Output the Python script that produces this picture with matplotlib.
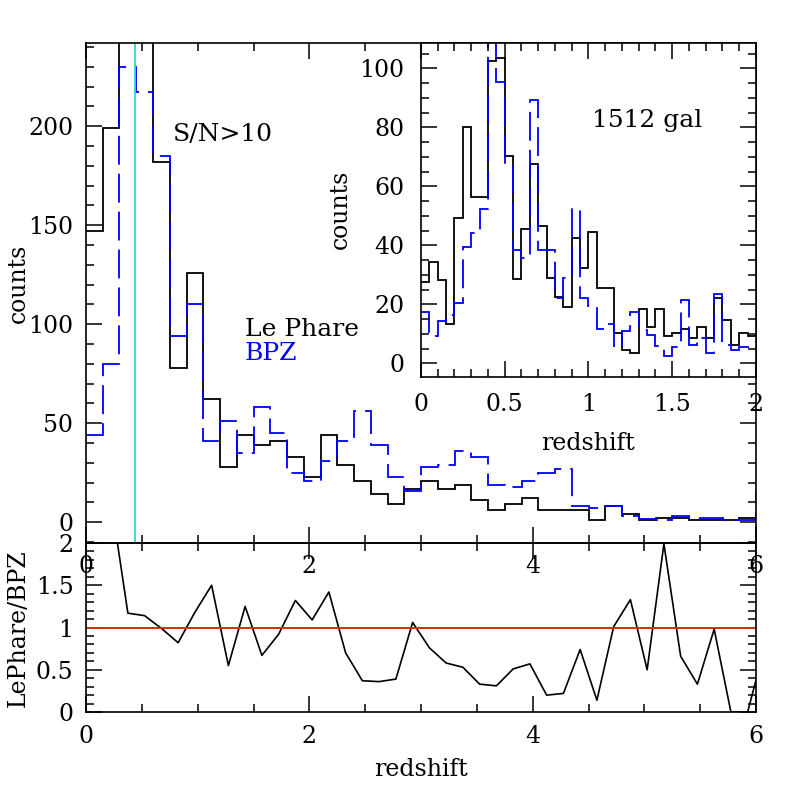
import matplotlib
matplotlib.use('Agg')
import matplotlib.pyplot as plt
import numpy as np
from matplotlib.ticker import MultipleLocator, FuncFormatter

plt.rcParams['font.family'] = ['DejaVu Serif']
plt.rcParams['font.size'] = 17

# main histogram, bins of 0.15 in redshift (last bin sits past z=6)
z_edges = np.arange(0, 6.16, 0.15)
lephare = [147, 199, 269, 248, 182, 78, 126, 62, 28, 44,
           39, 41, 33, 23, 44, 29, 21, 14, 9, 17,
           21, 17, 19, 11, 6, 9, 12, 6, 6, 6,
           1, 8, 4, 1, 2, 2, 1, 1, 1, 2, 2]
bpz = [44, 80, 230, 217, 185, 94, 110, 41, 51, 35,
       58, 45, 25, 21, 31, 41, 56, 39, 23, 16,
       28, 29, 36, 33, 19, 18, 21, 25, 27, 8,
       7, 8, 3, 1.5, 1, 3, 2, 2, 1, 1, 16]

# ratio LePhare/BPZ at the bin centres
ratio = [3.3, 2.5, 1.17, 1.14, 0.99, 0.82, 1.18, 1.50, 0.55, 1.25,
         0.67, 0.92, 1.32, 1.09, 1.42, 0.70, 0.37, 0.36, 0.39, 1.06,
         0.76, 0.58, 0.53, 0.33, 0.31, 0.51, 0.57, 0.20, 0.22, 0.74,
         0.14, 1.01, 1.33, 0.50, 1.99, 0.66, 0.33, 0.98, 0.0, 0.0, 0.76]

# inset, bins of 0.05 between z=0 and 2
zin_edges = np.arange(0, 2.001, 0.05)
lephare_in = [27.6, 34.4, 28.2, 13.3, 49.3, 80.2, 56.5, 56.5, 102.6, 103.4,
              70.3, 28.5, 45.4, 67.5, 46.5, 29.1, 22.4, 19.2, 42.6, 32.2,
              44.4, 25.4, 25.4, 10.4, 4.7, 3.4, 18.4, 12.4, 18.4, 9.3,
              10.4, 11.6, 8.5, 12.4, 8.5, 22.0, 14.7, 6.4, 10.4, 9.3]
bpz_in = [17.3, 9.3, 14.4, 16.4, 20.3, 39.3, 44.3, 52.3, 115, 95.5,
          67.2, 38.4, 35.6, 89.3, 38.4, 38.4, 22.2, 29.0, 52.3, 22.2,
          19.4, 11.6, 13.3, 5.6, 11.0, 17.3, 11.3, 9.6, 6.0, 2.5,
          5.6, 21.5, 6.4, 8.5, 3.4, 23.4, 6.4, 4.5, 5.6, 6.4]

z_cut = 0.44
n_gal = 1512

BLUE = '#0000ff'
DASH = (0, (16, 5))
gfmt = FuncFormatter(lambda v, p: f'{v:g}')


def style_ticks(ax, xmaj, xmin, ymaj, ymin, pad=9):
    ax.xaxis.set_major_locator(MultipleLocator(xmaj))
    ax.xaxis.set_minor_locator(MultipleLocator(xmin))
    ax.yaxis.set_major_locator(MultipleLocator(ymaj))
    ax.yaxis.set_minor_locator(MultipleLocator(ymin))
    ax.xaxis.set_major_formatter(gfmt)
    ax.yaxis.set_major_formatter(gfmt)
    ax.tick_params(which='both', direction='in', top=True, right=True,
                   width=1.1, pad=pad)
    ax.tick_params(which='major', length=11.5)
    ax.tick_params(which='minor', length=5.8)
    for s in ax.spines.values():
        s.set_linewidth(1.2)


fig = plt.figure(figsize=(7.97, 7.97), dpi=100)

# ---- main panel
ax = fig.add_axes([0.1079, 0.3187, 0.8407, 0.6274])
ax.stairs(lephare, z_edges, baseline=None, color='black', lw=1.3)
ax.stairs(bpz, z_edges, baseline=None, color=BLUE, lw=1.3, linestyle=DASH)
ax.axvline(z_cut, color='#33d6d6', lw=1.3)
ax.set_xlim(0, 6)
ax.set_ylim(-10.5, 242)
style_ticks(ax, 2, 0.5, 50, 10)
ax.set_ylabel('counts')
ax.yaxis.set_label_coords(-0.0836, 0.52)
ax.text(0.776, 192.4, 'S/N>10', va='baseline', fontsize=18)
ax.text(1.42, 94, 'Le Phare', va='baseline', fontsize=18)
ax.text(1.42, 82, 'BPZ', va='baseline', fontsize=18, color=BLUE)

# ---- ratio panel
axr = fig.add_axes([0.1079, 0.1066, 0.8407, 0.2121])
axr.set_facecolor('none')
zc = z_edges[:-1] + 0.075
axr.plot(zc, ratio, color='black', lw=1.2)
axr.axhline(1, color='#cc3300', lw=1.4)
axr.set_xlim(0, 6)
axr.set_ylim(0, 2)
style_ticks(axr, 2, 0.5, 0.5, 0.1)
axr.set_xlabel('redshift')
axr.set_ylabel('LePhare/BPZ')
axr.xaxis.set_label_coords(0.5, -0.27)
axr.yaxis.set_label_coords(-0.0836, 0.497)

# ---- inset
axi = fig.add_axes([0.5282, 0.5274, 0.4203, 0.4187])
axi.stairs(lephare_in, zin_edges, baseline=None, color='black', lw=1.3)
axi.stairs(bpz_in, zin_edges, baseline=None, color=BLUE, lw=1.3, linestyle=DASH)
axi.set_xlim(0, 2)
axi.set_ylim(-4.5, 108.6)
style_ticks(axi, 0.5, 0.1, 20, 5, pad=12)
axi.set_xlabel('redshift')
axi.set_ylabel('counts')
axi.xaxis.set_label_coords(0.5, -0.165)
axi.yaxis.set_label_coords(-0.206, 0.5)
axi.text(1.022, 80, f'{n_gal} gal', va='baseline', fontsize=18)

fig.savefig('out.png', dpi=100)
